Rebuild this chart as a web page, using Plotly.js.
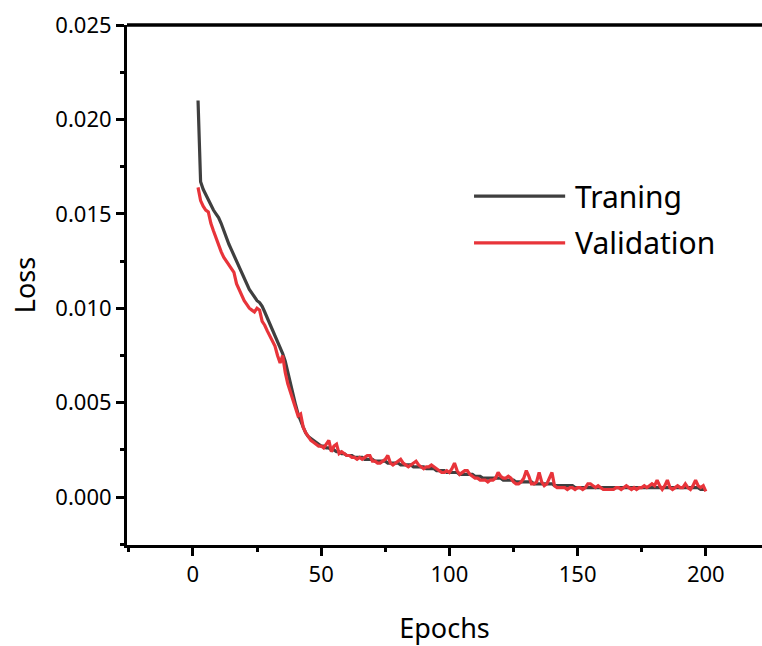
<!DOCTYPE html>
<html>
<head>
<meta charset="utf-8">
<script src="https://cdn.plot.ly/plotly-3.0.1.min.js"></script>
<style>html,body{margin:0;padding:0;background:#fff;overflow:hidden;}#chart{width:762px;height:646px;}</style>
</head>
<body>
<div id="chart"></div>
<script>
const epochs = [2,3,4,5,6,7,8,9,10,11,12,13,14,15,16,17,18,19,20,21,22,23,24,25,26,27,28,29,30,31,32,33,34,35,36,37,38,39,40,41,42,43,44,45,46,47,48,49,50,51,52,53,54,55,56,57,58,59,60,61,62,63,64,65,66,67,68,69,70,71,72,73,74,75,76,77,78,79,80,81,82,83,84,85,86,87,88,89,90,91,92,93,94,95,96,97,98,99,100,101,102,103,104,105,106,107,108,109,110,111,112,113,114,115,116,117,118,119,120,121,122,123,124,125,126,127,128,129,130,131,132,133,134,135,136,137,138,139,140,141,142,143,144,145,146,147,148,149,150,151,152,153,154,155,156,157,158,159,160,161,162,163,164,165,166,167,168,169,170,171,172,173,174,175,176,177,178,179,180,181,182,183,184,185,186,187,188,189,190,191,192,193,194,195,196,197,198,199,200];

const trainingLoss = [
0.0210,0.0167,0.0163,0.0160,0.0157,0.0154,0.0152,0.0150,0.0148,
0.0145,0.0141,0.0137,0.0134,0.0131,0.0128,0.0125,0.0122,0.0119,0.0116,
0.0113,0.0110,0.0108,0.0106,0.0104,0.0103,0.0101,0.0098,0.0095,0.0092,
0.0089,0.0086,0.0082,0.0079,0.0076,0.0072,0.0066,0.0060,0.0055,0.0049,
0.0044,0.0040,0.0037,0.0034,0.0032,0.0031,0.0030,0.0029,0.0028,0.0027,
0.0027,0.0026,0.0026,0.0025,0.0025,0.0024,0.0024,0.0023,0.0023,0.0022,
0.0022,0.0022,0.0021,0.0021,0.0021,0.0021,0.0020,0.0020,0.0020,0.0020,
0.0019,0.0019,0.0019,0.0019,0.0019,0.0018,0.0018,0.0018,0.0018,0.0018,
0.0017,0.0017,0.0017,0.0017,0.0017,0.0016,0.0016,0.0016,0.0016,0.0016,
0.0015,0.0015,0.0015,0.0015,0.0014,0.0014,0.0014,0.0014,0.0013,0.0013,
0.0013,0.0013,0.0013,0.0012,0.0012,0.0012,0.0012,0.0012,0.0012,0.0011,
0.0011,0.0011,0.0010,0.0010,0.0010,0.0010,0.0010,0.0010,0.0010,0.0010,
0.0009,0.0009,0.0009,0.0009,0.0009,0.0008,0.0008,0.0008,0.0008,0.0008,
0.0008,0.0008,0.0007,0.0007,0.0007,0.0007,0.0007,0.0007,0.0007,0.0007,
0.0006,0.0006,0.0006,0.0006,0.0006,0.0006,0.0006,0.0006,0.0005,0.0005,
0.0005,0.0005,0.0005,0.0005,0.0005,0.0005,0.0005,0.0005,0.0005,0.0005,
0.0005,0.0005,0.0005,0.0005,0.0005,0.0005,0.0005,0.0005,0.0005,0.0005,
0.0005,0.0005,0.0005,0.0005,0.0005,0.0005,0.0005,0.0005,0.0005,0.0005,
0.0005,0.0005,0.0005,0.0005,0.0005,0.0005,0.0005,0.0005,0.0005,0.0005,
0.0005,0.0005,0.0005,0.0005,0.0005,0.0005,0.0005,0.0004,0.0004,0.0004
];

const validationLoss = [
0.0164,0.0157,0.0154,0.0152,0.0151,0.0145,0.0141,0.0137,0.0133,
0.0130,0.0127,0.0125,0.0123,0.0121,0.0119,0.0113,0.0110,0.0106,0.0104,
0.0102,0.0100,0.0099,0.0098,0.0100,0.0099,0.0093,0.0091,0.0088,0.0085,
0.0083,0.0080,0.0075,0.0071,0.0075,0.0066,0.0060,0.0056,0.0052,0.0047,
0.0043,0.0044,0.0037,0.0034,0.0032,0.0030,0.0029,0.0028,0.0027,0.0027,
0.0026,0.0028,0.0030,0.0024,0.0027,0.0028,0.0023,0.0024,0.0023,0.0022,
0.0022,0.0021,0.0021,0.0020,0.0021,0.0020,0.0021,0.0022,0.0022,0.0019,
0.0019,0.0018,0.0018,0.0019,0.0020,0.0022,0.0018,0.0017,0.0018,0.0019,
0.0020,0.0018,0.0017,0.0016,0.0017,0.0018,0.0019,0.0017,0.0016,0.0015,
0.0016,0.0016,0.0017,0.0016,0.0015,0.0014,0.0013,0.0013,0.0014,0.0013,
0.0015,0.0018,0.0014,0.0012,0.0013,0.0014,0.0014,0.0012,0.0011,0.0010,
0.0010,0.0009,0.0009,0.0009,0.0008,0.0009,0.0009,0.0010,0.0013,0.0011,
0.0010,0.0010,0.0011,0.0010,0.0008,0.0007,0.0007,0.0008,0.0010,0.0014,
0.0011,0.0007,0.0007,0.0008,0.0013,0.0008,0.0006,0.0007,0.0010,0.0013,
0.0006,0.0005,0.0005,0.0005,0.0005,0.0004,0.0005,0.0005,0.0004,0.0005,
0.0005,0.0004,0.0005,0.0007,0.0007,0.0006,0.0005,0.0006,0.0005,0.0004,
0.0004,0.0004,0.0004,0.0004,0.0005,0.0005,0.0004,0.0005,0.0006,0.0005,
0.0004,0.0005,0.0004,0.0005,0.0005,0.0006,0.0005,0.0006,0.0007,0.0006,
0.0009,0.0006,0.0004,0.0006,0.0009,0.0005,0.0004,0.0005,0.0006,0.0005,
0.0005,0.0007,0.0005,0.0004,0.0006,0.0009,0.0006,0.0005,0.0006,0.0003
];

const seriesNames = ['Traning', 'Validation'];
const xTickVals = [0, 50, 100, 150, 200];
const yTickVals = [0, 0.005, 0.010, 0.015, 0.020, 0.025];
const yTickText = ['0.000', '0.005', '0.010', '0.015', '0.020', '0.025'];

const colTrain = '#3f3f3f';
const colVal = '#e8343a';
const font = 'Noto Sans, Open Sans, sans-serif';

const traces = [
  {x: epochs, y: trainingLoss, type: 'scatter', mode: 'lines', name: seriesNames[0],
   line: {color: colTrain, width: 3.2}},
  {x: epochs, y: validationLoss, type: 'scatter', mode: 'lines', name: seriesNames[1],
   line: {color: colVal, width: 3.2}}
];

const layout = {
  width: 762, height: 646,
  margin: {l: 127, r: 0, t: 25, b: 101},
  paper_bgcolor: '#fff', plot_bgcolor: '#fff',
  showlegend: false,
  font: {family: font, color: '#000'},
  xaxis: {
    range: [-25.7, 221.9], showgrid: false, zeroline: false,
    showline: true, linecolor: '#000', linewidth: 3,
    ticks: 'outside', ticklen: 8, tickwidth: 3, tickcolor: '#000',
    tickvals: xTickVals, tickfont: {size: 22, family: font, color: '#000'},
    minor: {dtick: 25, tick0: 0, ticks: 'outside', ticklen: 4, tickwidth: 3, tickcolor: '#000', showgrid: false},
    title: {text: 'Epochs', font: {size: 27, family: font, color: '#000'}, standoff: 38},
    automargin: false
  },
  yaxis: {
    range: [-0.00254, 0.025], showgrid: false, zeroline: false,
    showline: true, linecolor: '#000', linewidth: 3,
    ticks: 'outside', ticklen: 8, tickwidth: 3, tickcolor: '#000',
    tickvals: yTickVals, ticktext: yTickText, tickfont: {size: 22, family: font, color: '#000'},
    minor: {dtick: 0.0025, tick0: 0, ticks: 'outside', ticklen: 4, tickwidth: 3, tickcolor: '#000', showgrid: false},
    title: {text: 'Loss', font: {size: 27, family: font, color: '#000'}, standoff: 12},
    automargin: false
  },
  shapes: [
    {type: 'line', xref: 'paper', yref: 'paper', x0: 0, x1: 1, y0: 1, y1: 1, line: {color: '#000', width: 3.5}},
    {type: 'line', xref: 'paper', yref: 'paper', x0: 0.5465, x1: 0.690, y0: 0.671, y1: 0.671, line: {color: colTrain, width: 3.2}},
    {type: 'line', xref: 'paper', yref: 'paper', x0: 0.5465, x1: 0.690, y0: 0.581, y1: 0.581, line: {color: colVal, width: 3.2}}
  ],
  annotations: [
    {xref: 'paper', yref: 'paper', x: 0.702, y: 0.671, xanchor: 'left', yanchor: 'middle', showarrow: false,
     text: seriesNames[0], font: {size: 30, family: font, color: '#000'}},
    {xref: 'paper', yref: 'paper', x: 0.702, y: 0.581, xanchor: 'left', yanchor: 'middle', showarrow: false,
     text: seriesNames[1], font: {size: 30, family: font, color: '#000'}}
  ]
};

Plotly.newPlot('chart', traces, layout, {displayModeBar: false, staticPlot: true});
</script>
</body>
</html>
